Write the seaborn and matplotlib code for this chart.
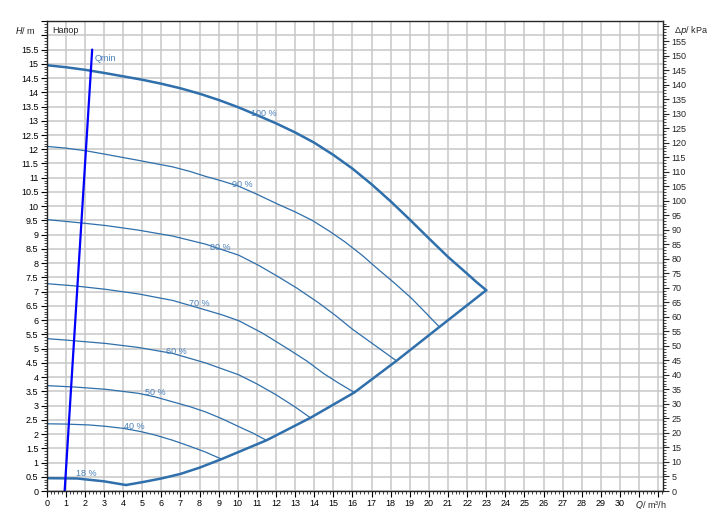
import numpy as np
import pandas as pd
import matplotlib
matplotlib.use("Agg")
import matplotlib.pyplot as plt
from matplotlib.ticker import MultipleLocator, FuncFormatter
import seaborn as sns

# Kennlinien bei verschiedenen Drehzahlen: Q in m3/h, H in m
q_100 = [0, 1, 2, 3, 4, 5, 6, 7, 8, 9, 10, 11, 12, 13, 14, 15, 16, 17, 18, 19, 20, 21, 22, 22.5, 23.0]
h_100 = [14.95, 14.88, 14.79, 14.68, 14.56, 14.44, 14.3, 14.14, 13.95, 13.73, 13.48, 13.2,
         12.91, 12.59, 12.23, 11.8, 11.32, 10.77, 10.17, 9.53, 8.87, 8.22, 7.63, 7.33, 7.05]
q_90 = [0, 1, 2.1, 3.1, 4.8, 5.5, 6.6, 7.5, 8.3, 9.2, 10.05, 11, 12.1, 13, 13.9, 14.8, 15.6,
        16.5, 17.3, 18.2, 19.1, 19.8, 20.55]
h_90 = [12.1, 12.04, 11.94, 11.82, 11.61, 11.52, 11.38, 11.22, 11.05, 10.88, 10.7, 10.42,
        10.07, 9.8, 9.5, 9.12, 8.75, 8.28, 7.81, 7.3, 6.76, 6.28, 5.76]
q_80 = [0, 1.7, 3.1, 4.8, 6.6, 8.3, 10.05, 11.1, 12.1, 13.1, 14.2, 15.1, 16.0, 17.1, 18.3]
h_80 = [9.53, 9.42, 9.32, 9.16, 8.95, 8.67, 8.28, 7.92, 7.53, 7.12, 6.62, 6.17, 5.68, 5.15, 4.57]
q_70 = [0, 1.5, 3.1, 4.8, 6.6, 8.3, 9.2, 10.05, 11.3, 12.6, 13.6, 14.5, 15.3, 16.1]
h_70 = [7.28, 7.2, 7.08, 6.92, 6.69, 6.36, 6.18, 5.98, 5.54, 5.0, 4.57, 4.12, 3.78, 3.46]
q_60 = [0, 1.0, 3.1, 4.8, 6.6, 8.3, 10.05, 11.0, 12.0, 13.0, 13.8]
h_60 = [5.35, 5.3, 5.18, 5.04, 4.83, 4.5, 4.08, 3.76, 3.38, 2.95, 2.57]
q_50 = [0, 1.5, 3.1, 4.8, 5.7, 6.6, 7.5, 8.3, 9.2, 10.05, 10.8, 11.5]
h_50 = [3.7, 3.65, 3.57, 3.43, 3.3, 3.13, 2.96, 2.78, 2.53, 2.26, 2.03, 1.78]
q_40 = [0, 1.0, 2.2, 3.1, 4.0, 4.9, 5.7, 6.6, 7.45, 8.3, 9.15]
h_40 = [2.36, 2.35, 2.32, 2.27, 2.2, 2.09, 1.96, 1.78, 1.58, 1.37, 1.12]
q_18 = [0, 1.6, 2.0, 3.0, 4.15]
h_18 = [0.45, 0.44, 0.41, 0.34, 0.21]

# Grenzkurve (max. Foerdermenge)
q_lim = [4.15, 5.0, 6.0, 7.0, 8.0, 9.15, 11.5, 13.8, 16.1, 18.3, 20.55, 23.0]
h_lim = [0.21, 0.31, 0.44, 0.6, 0.82, 1.12, 1.78, 2.57, 3.46, 4.57, 5.76, 7.05]

# Qmin
q_min = [0.94, 2.38]
h_min = [0.0, 15.5]

labels = ["100 %", "90 %", "80 %", "70 %", "60 %", "50 %", "40 %", "18 %"]
label_q = [11.35, 10.26, 9.1, 7.97, 6.8, 5.7, 4.57, 2.08]
label_h = [13.26, 10.77, 8.56, 6.6, 4.9, 3.47, 2.25, 0.6]

sns.set_style("white")
plt.rcParams["font.family"] = ["Liberation Sans", "DejaVu Sans"]

blue = "#2f6fab"
txt_blue = "#4a80b8"

fig = plt.figure(figsize=(7.25, 5.27), dpi=100)
ax = fig.add_axes([0.0644, 0.0683, 0.8501, 0.8917])

curves = [(q_90, h_90), (q_80, h_80), (q_70, h_70), (q_60, h_60),
          (q_50, h_50), (q_40, h_40)]
for q, h in curves:
    sns.lineplot(x=q, y=h, ax=ax, color=blue, linewidth=0.9, sort=False)
sns.lineplot(x=q_100, y=h_100, ax=ax, color=blue, linewidth=1.8, sort=False)
sns.lineplot(x=q_18, y=h_18, ax=ax, color=blue, linewidth=1.8, sort=False)
sns.lineplot(x=q_lim, y=h_lim, ax=ax, color=blue, linewidth=1.8, sort=False)
sns.lineplot(x=q_min, y=h_min, ax=ax, color="#0000ff", linewidth=1.6, sort=False)

for lab, lq, lh in zip(labels, label_q, label_h):
    ax.text(lq, lh, lab, color=txt_blue, fontsize=6.5, ha="center", va="center")
ax.text(2.5, 15.2, "Qmin", color=txt_blue, fontsize=6.5, ha="left", va="center")

ax.set_xlim(0, 32.25)
ax.set_ylim(0, 16.5)
ax.xaxis.set_major_locator(MultipleLocator(1))
ax.xaxis.set_minor_locator(MultipleLocator(0.2))
ax.yaxis.set_major_locator(MultipleLocator(0.5))
ax.yaxis.set_minor_locator(MultipleLocator(0.1))
ax.xaxis.set_major_formatter(FuncFormatter(lambda v, p: f"{v:g}" if v <= 30 else ""))
ax.yaxis.set_major_formatter(FuncFormatter(lambda v, p: f"{v:g}" if v <= 15.5 else ""))
ax.grid(True, which="major", color="#c8c8c8", linewidth=1.1)
ax.set_axisbelow(True)
ax.tick_params(which="major", length=4, width=0.8, labelsize=6.5, colors="black", pad=2)
ax.tick_params(which="minor", length=2.5, width=0.6)
ax.tick_params(axis="x", which="both", bottom=True)
ax.tick_params(axis="y", which="both", left=True)
for s in ax.spines.values():
    s.set_color("black")
    s.set_linewidth(0.9)
ax.set_xlabel("")
ax.set_ylabel("")

ax2 = ax.twinx()
ax2.set_ylim(0, 16.5 * 9.81)
ax2.yaxis.set_major_locator(MultipleLocator(5))
ax2.yaxis.set_minor_locator(MultipleLocator(1))
ax2.yaxis.set_major_formatter(FuncFormatter(lambda v, p: f"{v:g}" if v <= 155 else ""))
ax2.tick_params(which="major", length=4, width=0.8, labelsize=6.5, pad=2)
ax2.tick_params(which="minor", length=2.5, width=0.6)
ax2.tick_params(axis="y", which="both", right=True)
ax2.grid(False)

ax.text(-0.017, 0.981, "$H$/ m", transform=ax.transAxes, fontsize=6.5, ha="right", va="center")
ax.text(0.009, 0.981, "Напор", transform=ax.transAxes, fontsize=6.5, ha="left", va="center")
ax.text(1.018, 0.981, "Δ$p$/ kPa", transform=ax.transAxes, fontsize=6.5, ha="left", va="center")
ax.text(31.6, -0.03, "$Q$/ m³/h", transform=ax.get_xaxis_transform(), fontsize=6.5,
        ha="center", va="center")

fig.savefig("out.png", dpi=100)
